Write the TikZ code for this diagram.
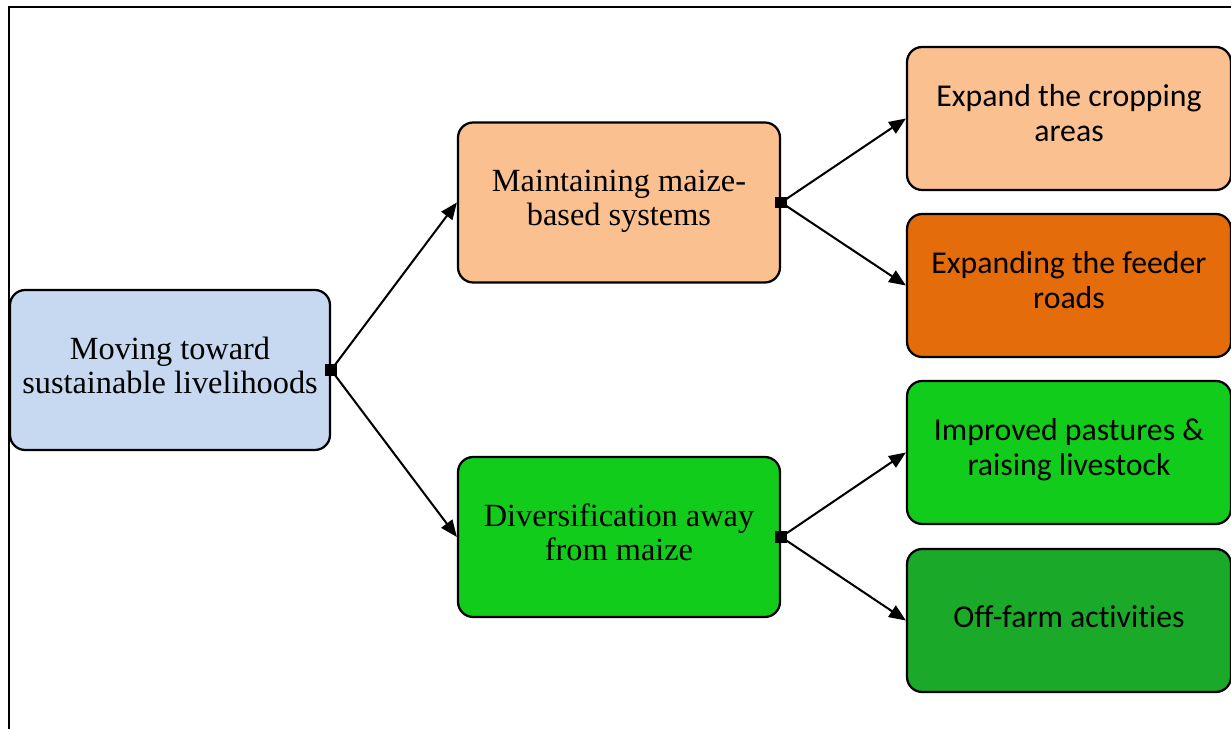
\documentclass[tikz,border=0pt]{standalone}
\usepackage{fontspec}
\setmainfont{Liberation Serif}
\newfontfamily\calibrifont[Ligatures=NoCommon]{Carlito}
\usepackage{xcolor}
\usetikzlibrary{calc,arrows.meta}
\usetikzlibrary{positioning}

\definecolor{boxblue}{HTML}{C6D9F1}
\definecolor{boxpeach}{HTML}{FAC090}
\definecolor{boxorange}{HTML}{E46C0A}
\definecolor{boxgreen}{HTML}{12CC1C}
\definecolor{boxdkgreen}{HTML}{1BA92A}

\begin{document}
\begin{tikzpicture}[
    box/.style={draw, line width=1.6pt, rounded corners=0.38cm, align=center,
        inner sep=0pt, execute at end node=\strut},
    mid box/.style={box, minimum width=8.05cm, minimum height=4cm,
        font=\fontsize{23}{24}\selectfont},
    leaf box/.style={box, minimum width=8.1cm, minimum height=3.575cm,
        font=\calibrifont\fontsize{22.6}{25}\selectfont},
    junction/.style={fill, rectangle, minimum size=0.29cm, inner sep=0pt},
    every edge/.style={draw, line width=1.45pt,
        -{Triangle[length=0.42cm, width=0.34cm]}}
]

% FIXED BOUNDING BOX
\path[use as bounding box] (0,0) rectangle (30.775,18.225);

% frame
\draw[line width=1.1pt] (0.225,0) -- (0.225,18.05) -- (30.775,18.05);

% boxes
\node[mid box, fill=boxblue, minimum width=8cm] (L) at (4.25, 8.975)
    {Moving toward\\sustainable livelihoods};
\node[mid box, fill=boxpeach] (M1) at (15.475, 13.1625)
    {Maintaining maize-\\based systems};
\node[mid box, fill=boxgreen] (M2) at (15.475, 4.8)
    {Diversification away\\from maize};
\node[leaf box, fill=boxpeach] (R1) at (26.725, 15.2625)
    {Expand the cropping\\areas};
\node[leaf box, fill=boxorange] (R2) at (26.725, 11.0875)
    {Expanding the feeder\\roads};
\node[leaf box, fill=boxgreen] (R3) at (26.725, 6.9125)
    {Improved pastures \&\\raising livestock};
\node[leaf box, fill=boxdkgreen] (R4) at (26.725, 2.7125)
    {Off-farm activities};

% branch points
\node[junction] (J0) at (L.east) {};
\node[junction] (J1) at (M1.east) {};
\node[junction] (J2) at (M2.east) {};

\path (J0.center) edge (M1.west);
\path (J0.center) edge (M2.west);
\path (J1.center) edge (R1.west);
\path (J1.center) edge (R2.west);
\path (J2.center) edge (R3.west);
\path (J2.center) edge (R4.west);

\end{tikzpicture}
\end{document}
